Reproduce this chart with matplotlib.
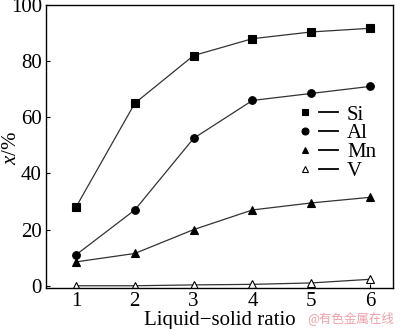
import matplotlib
matplotlib.use("Agg")
import matplotlib.pyplot as plt
from matplotlib.lines import Line2D
from matplotlib.legend_handler import HandlerTuple

ratio = [1, 2, 3, 4, 5, 6]
si = [28, 65, 82, 88, 90.4, 91.7]
al = [11, 27, 52.5, 66, 68.5, 71]
mn = [8.5, 11.5, 20, 27, 29.5, 31.5]
v = [0, 0, 0.3, 0.5, 1, 2.3]
xticks = [1, 2, 3, 4, 5, 6]
yticks = [0, 20, 40, 60, 80, 100]

plt.rcParams['font.family'] = ['Liberation Serif', 'DejaVu Serif']
plt.rcParams['mathtext.fontset'] = 'custom'
plt.rcParams['mathtext.it'] = 'Liberation Serif:italic'
plt.rcParams['mathtext.rm'] = 'Liberation Serif'
fig = plt.figure(figsize=(4, 3.29), dpi=100)
ax = fig.add_axes([46/400, 1-288/329, (393-46)/400, (288-5)/329])

series = [(si, 's', 'black', 'Si'), (al, 'o', 'black', 'Al'),
          (mn, '^', 'black', 'Mn'), (v, '^', 'white', 'V')]
for vals, m, fc, lab in series:
    ax.plot(ratio, vals, color='#333333', lw=0.9, marker=m, ms=5.5,
            markerfacecolor=fc, markeredgecolor='black', markeredgewidth=0.8, label=lab)

ax.set_xlim(0.49, 6.39)
ax.set_ylim(-0.8, 100)
ax.set_xticks(xticks)
ax.set_yticks(yticks)
ax.tick_params(direction='in', length=3, labelsize=15, width=0.8, pad=3)
for s in ax.spines.values():
    s.set_linewidth(1.0)
ax.set_xlabel('Liquid\u2212solid ratio', fontsize=15, labelpad=0)
fig.text(11/400, 1-148/329, '$x$/%', fontsize=15, rotation=90, ha='center', va='center')

handles = []
for _, m, fc, _ in series:
    mk = Line2D([], [], ls='none', marker=m, ms=5, markerfacecolor=fc,
                markeredgecolor='black', markeredgewidth=0.8)
    ln = Line2D([], [], color='black', lw=1.3)
    handles.append((mk, ln))
leg = ax.legend(handles, [s[3] for s in series], loc='upper left',
                bbox_to_anchor=(296/400, 1-105/329), bbox_transform=fig.transFigure,
                frameon=False, fontsize=15, borderpad=0, borderaxespad=0,
                handlelength=2.0, handletextpad=0.45, labelspacing=-0.04,
                handler_map={tuple: HandlerTuple(ndivide=None, pad=0.25)})

fig.text(0.985, 0.012, '@有色金属在线', color='#f0a0a8', fontsize=9,
         ha='right', va='bottom', family=['Noto Sans CJK SC', 'DejaVu Sans'])
fig.savefig('out.png', dpi=100)
